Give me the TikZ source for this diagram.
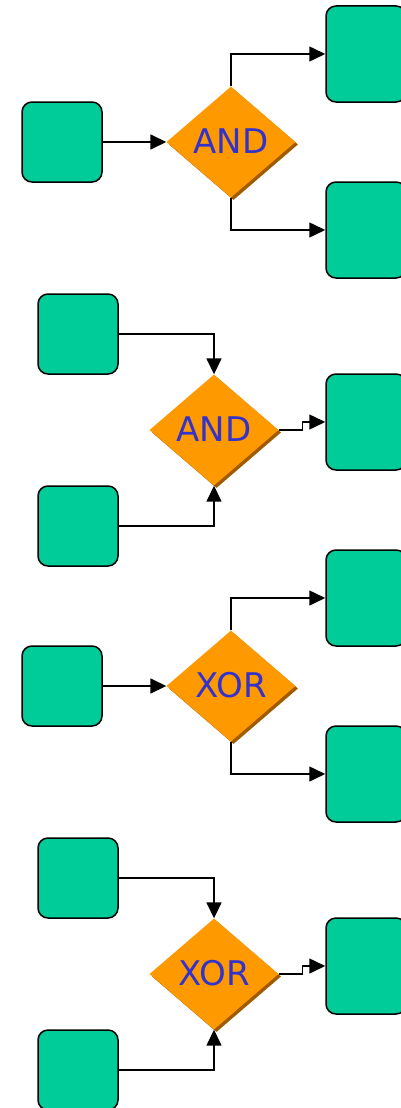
\documentclass[tikz,border=0pt]{standalone}
\usepackage{fontspec}
\newfontfamily\gatefont{DejaVu Sans}
\usetikzlibrary{shapes.geometric,shadows,arrows.meta}
\definecolor{taskgreen}{RGB}{0,204,153}
\definecolor{gateorange}{RGB}{255,153,0}
\definecolor{gateshadow}{RGB}{160,90,0}
\definecolor{gateblue}{RGB}{51,51,204}

\begin{document}
\begin{tikzpicture}[
  x=1pt, y=-1pt,
  task_box/.style={rectangle, rounded corners=10pt, minimum width=80pt, minimum height=80pt, inner sep=0pt, draw=black, line width=1.5pt, fill=taskgreen},
  out_box/.style={task_box, minimum height=96pt},
  gate/.style={diamond, minimum width=129pt, minimum height=111pt, inner sep=0pt, fill=gateorange, text=gateblue, font=\gatefont\fontsize{34}{38}\selectfont, drop shadow={shadow xshift=2.5pt, shadow yshift=-2.5pt, fill=gateshadow, opacity=1}},
  flow/.style={line width=1.5pt, -{Triangle[length=16pt,width=15pt]}},
]
\useasboundingbox (0,0) rectangle (401,1108);

% AND split
\draw (62,142) node (in1) [task_box] {};
\draw (231,142) node (and1) [gate] {\raisebox{2pt}{AND}};
\draw (366,54) node (out1a) [out_box] {};
\draw (366,230) node (out1b) [out_box] {};
\draw[flow] (in1.east) -- (and1.west);
\draw[flow] (and1.north) |- (out1a.west);
\draw[flow] (and1.south) |- (out1b.west);

% AND join
\draw (78,334) node (in2a) [task_box] {};
\draw (78,526) node (in2b) [task_box] {};
\draw (214,430) node (and2) [gate] {\raisebox{2pt}{AND}};
\draw (366,422) node (out2) [out_box] {};
\draw[flow] (in2a.east) -| (and2.north);
\draw[flow] (in2b.east) -| (and2.south);
\draw[flow] (and2.east) -- ++(24,0) |- (out2.west);

% XOR split
\draw (62,686) node (in3) [task_box] {};
\draw (231,686) node (xor3) [gate] {\raisebox{2pt}{XOR}};
\draw (366,598) node (out3a) [out_box] {};
\draw (366,774) node (out3b) [out_box] {};
\draw[flow] (in3.east) -- (xor3.west);
\draw[flow] (xor3.north) |- (out3a.west);
\draw[flow] (xor3.south) |- (out3b.west);

% XOR join
\draw (78,878) node (in4a) [task_box] {};
\draw (78,1070) node (in4b) [task_box] {};
\draw (214,974) node (xor4) [gate] {\raisebox{2pt}{XOR}};
\draw (366,966) node (out4) [out_box] {};
\draw[flow] (in4a.east) -| (xor4.north);
\draw[flow] (in4b.east) -| (xor4.south);
\draw[flow] (xor4.east) -- ++(24,0) |- (out4.west);
\end{tikzpicture}
\end{document}
